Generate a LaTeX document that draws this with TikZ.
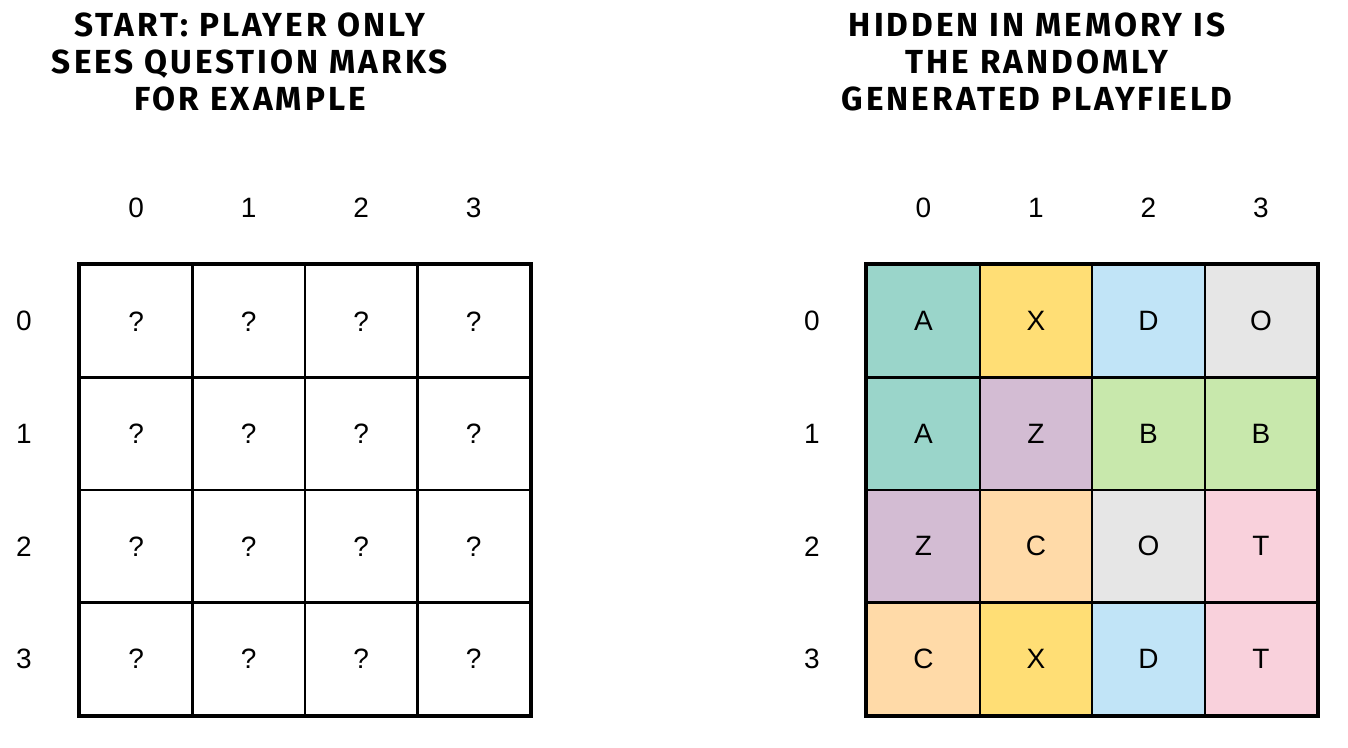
\documentclass[tikz,border=0pt]{standalone}
\usepackage{fontspec}
\setmainfont{Liberation Sans}
\newfontfamily\titlefont[LetterSpace=9]{Fira Sans}
\definecolor{cteal}{RGB}{154,213,202}
\definecolor{cyellow}{RGB}{255,222,117}
\definecolor{cblue}{RGB}{193,228,247}
\definecolor{cgray}{RGB}{230,230,230}
\definecolor{cpurple}{RGB}{211,188,211}
\definecolor{cgreen}{RGB}{200,232,172}
\definecolor{corange}{RGB}{255,218,168}
\definecolor{cpink}{RGB}{249,209,220}
\begin{document}
\begin{tikzpicture}[x=0.75pt,y=-0.75pt,
  cell/.style={draw=black,line width=1.6pt,minimum size=84.4pt,inner sep=0pt,font=\fontsize{21}{25}\selectfont},
  lbl/.style={inner sep=0pt,font=\fontsize{21}{25}\selectfont},
  ttl/.style={align=center,inner sep=0pt,font=\titlefont\bfseries\fontsize{25}{27.75}\selectfont}]
\useasboundingbox (0,0) rectangle (1348,748);
\node[ttl] (t1) at (250,62) {START: PLAYER ONLY\\SEES QUESTION MARKS\\FOR EXAMPLE};
\node[ttl] (t2) at (1037,62) {HIDDEN IN MEMORY IS\\THE RANDOMLY\\GENERATED PLAYFIELD};
% left grid
\foreach \c in {0,1,2,3} {
  \node[lbl] (lc\c) at ({136.25+112.5*\c},208) {\c};
  \node[lbl] (lr\c) at (24,{321.25+112.5*\c}) {\c};
  \node[lbl] (rc\c) at ({923.5+112.5*\c},208) {\c};
  \node[lbl] (rr\c) at (812,{321.25+112.5*\c}) {\c};
}
\foreach \r in {0,1,2,3} \foreach \c in {0,1,2,3} {
  \node[cell] (q\r\c) at ({136.25+112.5*\c},{321.25+112.5*\r}) {?};
}
\draw[line width=2.6pt] (q00.north west) rectangle (q33.south east);
% right grid
\foreach \r/\c/\t/\f in {0/0/A/cteal,0/1/X/cyellow,0/2/D/cblue,0/3/O/cgray,
  1/0/A/cteal,1/1/Z/cpurple,1/2/B/cgreen,1/3/B/cgreen,
  2/0/Z/cpurple,2/1/C/corange,2/2/O/cgray,2/3/T/cpink,
  3/0/C/corange,3/1/X/cyellow,3/2/D/cblue,3/3/T/cpink} {
  \node[cell,fill=\f] (p\r\c) at ({923.5+112.5*\c},{321.25+112.5*\r}) {\t};
}
\draw[line width=2.6pt] (p00.north west) rectangle (p33.south east);
\end{tikzpicture}
\end{document}
